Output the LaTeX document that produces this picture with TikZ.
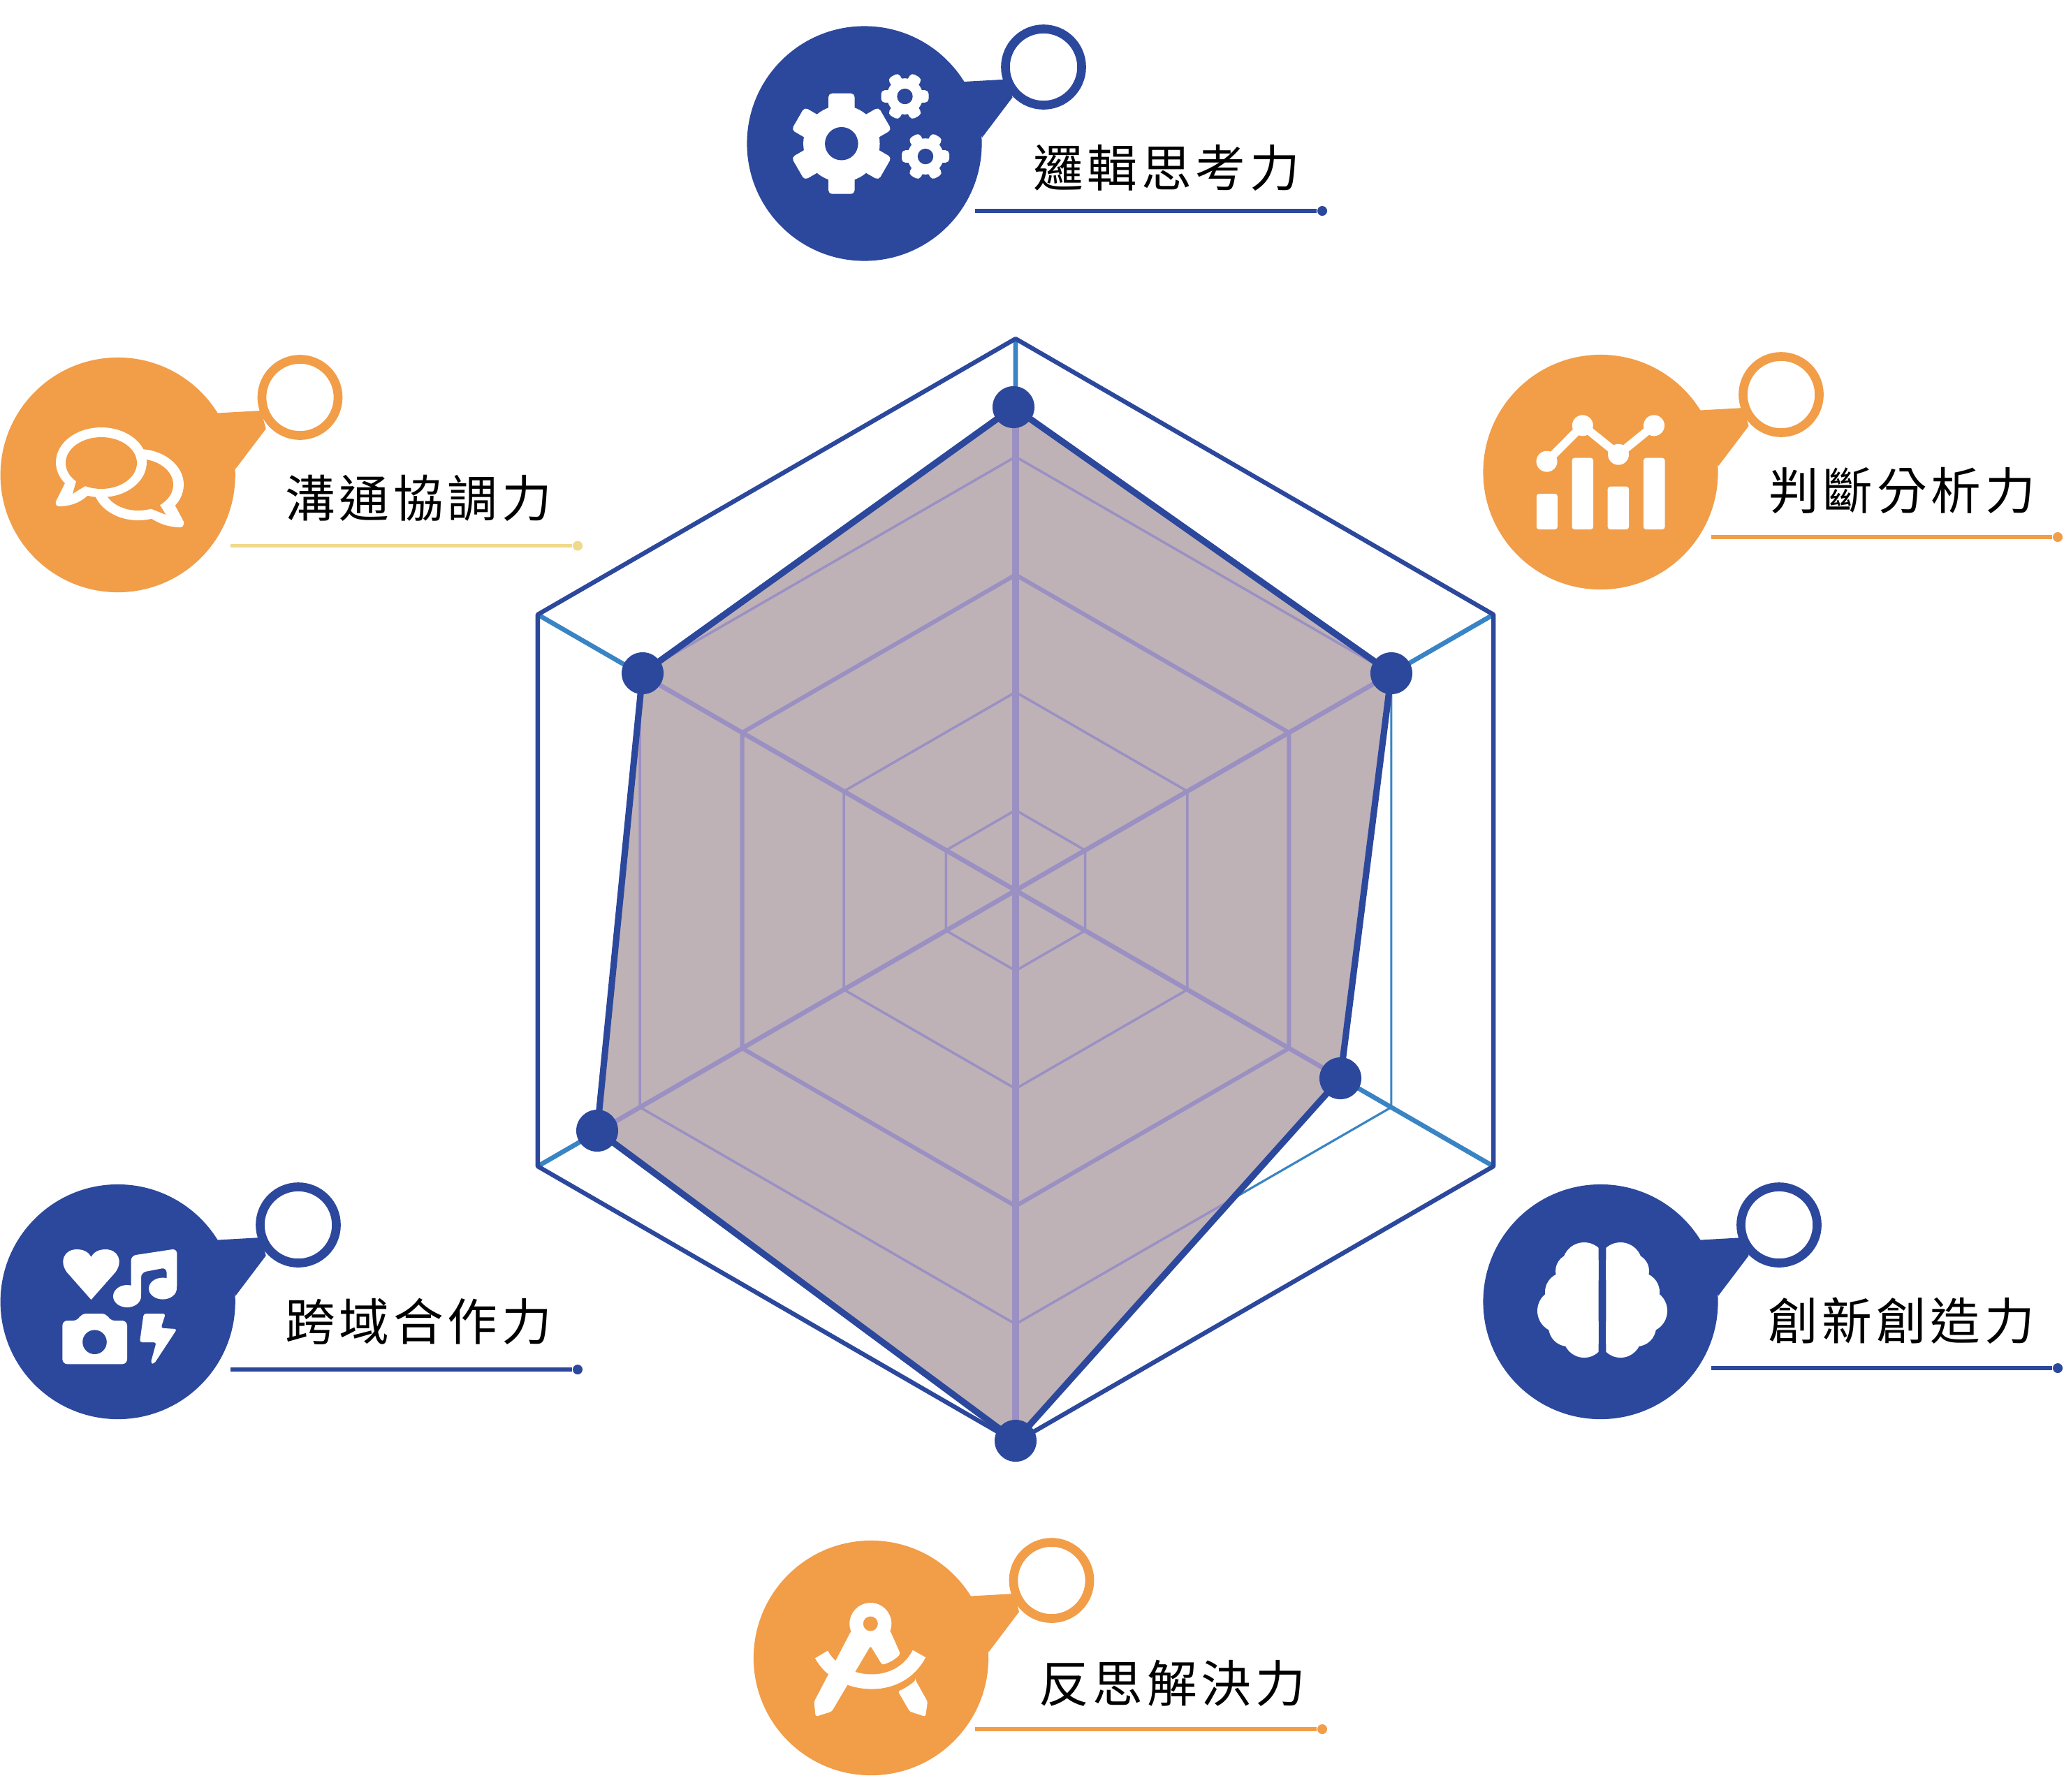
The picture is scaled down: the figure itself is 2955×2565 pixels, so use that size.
\documentclass[tikz,border=0pt]{standalone}
\usepackage{fontspec}
\newfontfamily\cjk[LetterSpace=8]{Noto Sans CJK TC}
\definecolor{navy}{HTML}{2C489C}
\definecolor{amber}{HTML}{F29D48}
\definecolor{straw}{HTML}{F0D98A}
\definecolor{skyline}{HTML}{3984C4}
\definecolor{gridline}{HTML}{9B90C2}
\definecolor{areafill}{HTML}{BEB2B7}
\tikzset{
	bigdisc/.style={circle,inner sep=0pt,minimum size=3.36cm,fill=#1},
	smallring/.style={circle,inner sep=0pt,minimum size=1.09cm,draw=#1,line width=3.6pt,fill=white},
	skill/.style={inner sep=0pt,text=black,font=\cjk\fontsize{20.4}{24}\selectfont},
	datadot/.style={circle,inner sep=0pt,minimum size=0.6cm,fill=navy},
	leaderdot/.style={circle,inner sep=0pt,minimum size=0.14cm,fill=#1},
}
% disc, tail and ring of one callout
\newcommand{\callout}[6]{
	\node[bigdisc=#6] (#1) at (#2,#3) {};
	\fill[#6] ([shift={(142.5,-88.5)}]#1.center) -- ([shift={(205,-92)}]#1.center) -- ([shift={(212,-66)}]#1.center) -- ([shift={(168.5,-8.5)}]#1.center) -- cycle;
	\node[smallring=#6] (#1ring) at (#4,#5) {};
}
% line under a label, with its dot at the free end
\newcommand{\leader}[5]{
	\coordinate (#1a) at (#2,#4);
	\node[leaderdot=#5] (#1b) at (#3,#4) {};
	\draw[#5,line width=1.5pt] (#1a) -- (#1b);
}
\newcommand{\hexring}[1]{(90:#1) -- (150:#1) -- (210:#1) -- (270:#1) -- (330:#1) -- (30:#1) -- cycle}
\newcommand{\spokes}{(90:790) -- (270:790) (30:790) -- (210:790) (150:790) -- (330:790)}
\newcommand{\cog}[4]{
	\begin{scope}[shift={(#1,#2)}]
		\fill[white] circle (0.76*#3);
		\foreach \k in {0,...,5}
			\fill[white,rounded corners=1.5pt,rotate=#4+60*\k] (0,-0.26*#3) rectangle (#3,0.26*#3);
		\fill[navy] circle (0.33*#3);
	\end{scope}
}
\newcommand{\lobe}{
	\begin{scope}
		\clip (-5.4,-100) rectangle (-110,100);
		\fill[white] (-26,-54) circle (31);
		\fill[white] (-42,-44) circle (25);
		\fill[white] (-54,-14) circle (28);
		\fill[white] (-62,13) circle (31);
		\fill[white] (-49,36) circle (28);
		\fill[white] (-26,50) circle (30);
		\fill[white] (-44,-60) rectangle (-5,60);
	\end{scope}
}
\begin{document}
\begin{tikzpicture}[x=0.01cm,y=-0.01cm]
	\useasboundingbox (0,0) rectangle (2955,2565);
	\coordinate (p1) at (1451,583);
	\coordinate (p2) at (1992,964);
	\coordinate (p3) at (1919,1544);
	\coordinate (p4) at (1454,2063);
	\coordinate (p5) at (855,1619);
	\coordinate (p6) at (920,964);

	% grid, as it stands outside the shaded area
	\begin{scope}[shift={(1454,1275)}]
		\draw[skyline,line width=1.9pt] \spokes;
		\draw[skyline,line width=0.9pt] \hexring{621};
		\draw[navy,line width=1.8pt,line join=round] \hexring{790};
	\end{scope}

	\fill[areafill] (p1) -- (p2) -- (p3) -- (p4) -- (p5) -- (p6) -- cycle;

	% grid inside the shaded area
	\begin{scope}
		\clip (p1) -- (p2) -- (p3) -- (p4) -- (p5) -- (p6) -- cycle;
		\begin{scope}[shift={(1454,1275)},gridline]
			\draw[line width=1pt] \hexring{115};
			\draw[line width=1pt] \hexring{284};
			\draw[line width=1.7pt] \hexring{452};
			\draw[line width=1pt] \hexring{621};
			\draw[line width=1.9pt] (150:790) -- (330:790) (30:790) -- (210:790);
			\draw[line width=2.6pt] (90:790) -- (270:790);
		\end{scope}
	\end{scope}

	\draw[navy,line width=2.6pt,line join=round] (p1) -- (p2) -- (p3) -- (p4) -- (p5) -- (p6) -- cycle;
	\foreach \i in {1,...,6}
		\node[datadot] (dot\i) at (p\i) {};

	% callouts
	\callout{logic}{1237.5}{205.5}{1494}{96}{navy}
	\leader{logicline}{1396}{1893}{302}{navy}
	\node[skill] (logiclabel) at (1670,240) {邏輯思考力};

	\callout{talk}{168.7}{680}{429.5}{569}{amber}
	\leader{talkline}{330}{827}{781.5}{straw}
	\node[skill] (talklabel) at (599,713) {溝通協調力};

	\callout{judge}{2291.5}{676}{2550}{565}{amber}
	\leader{judgeline}{2450}{2946}{769}{amber}
	\node[skill] (judgelabel) at (2723,702) {判斷分析力};

	\callout{cross}{168.7}{1864}{427}{1754}{navy}
	\leader{crossline}{330}{827}{1961}{navy}
	\node[skill] (crosslabel) at (599,1892) {跨域合作力};

	\callout{create}{2291.5}{1864}{2547}{1754}{navy}
	\leader{createline}{2450}{2946}{1959}{navy}
	\node[skill] (createlabel) at (2722,1891) {創新創造力};

	\callout{solve}{1247}{2374}{1505.5}{2263}{amber}
	\leader{solveline}{1396}{1893}{2476}{amber}
	\node[skill] (solvelabel) at (1678,2410) {反思解決力};

	% gears
	\cog{1204.8}{205.7}{72}{90}
	\cog{1295.5}{138}{34}{0}
	\cog{1325}{224}{34}{0}

	% speech bubbles
	\fill[white] (198,694) ellipse (65 and 51);
	\fill[white] (246,715) -- (263,747) .. controls (264,754) and (260,756) .. (255,755) .. controls (240,754) and (228,750) .. (216,742) -- cycle;
	\fill[amber] (198,694) ellipse (50 and 37);
	\fill[amber] (222,712) -- (237.5,737) -- (210,726) -- cycle;
	\fill[white] (145,662) ellipse (65 and 50);
	\fill[white] (94,690) -- (80,718) .. controls (79,724) and (82,725) .. (87,725) .. controls (105,724) and (118,718) .. (130,705) -- cycle;
	\fill[amber] (145,663) ellipse (51 and 37);
	\fill[amber] (110,686) -- (104,707) -- (125,694) -- cycle;

	% bars and trend line
	\fill[white,rounded corners=1pt] (2199.8,707) rectangle (2229.8,758);
	\fill[white,rounded corners=1pt] (2250.5,655.7) rectangle (2281,758);
	\fill[white,rounded corners=1pt] (2301.7,696.7) rectangle (2332,758);
	\fill[white,rounded corners=1pt] (2353,655.7) rectangle (2383.5,758);
	\draw[white,line width=3.4pt] (2214.5,660.7) -- (2265.8,609.3) -- (2317,650.7) -- (2368,609.3);
	\fill[white] (2214.5,660.7) circle (15);
	\fill[white] (2265.8,609.3) circle (15);
	\fill[white] (2317,650.7) circle (15);
	\fill[white] (2368,609.3) circle (15);

	% heart, notes, camera, bolt
	\fill[white] (130.5,1861) -- (96,1822) .. controls (84,1806) and (92,1789) .. (110,1789) .. controls (120,1789) and (127,1793) .. (130.5,1800) .. controls (134,1793) and (141,1789) .. (151,1789) .. controls (169,1789) and (177,1806) .. (165,1822) -- cycle;
	\fill[white,rounded corners=2pt] (187.6,1860) -- (187.6,1798) -- (253.4,1788) -- (253.4,1848) -- (238.6,1848) -- (238.6,1815) -- (202,1822) -- (202,1860) -- cycle;
	\fill[white] (182,1856) ellipse (20 and 16);
	\fill[white] (233,1845) ellipse (20 and 15.5);
	\fill[white,rounded corners=2pt] (89.4,1891) -- (112,1891) -- (116,1881) -- (153,1881) -- (157,1891) -- (182,1891) -- (182,1953.3) -- (89.4,1953.3) -- cycle;
	\fill[navy] (135.5,1921.7) circle (17.3);
	\fill[white,rounded corners=1pt] (205.7,1881) -- (237,1881) -- (230.4,1901.7) -- (253.4,1903) -- (220.5,1953) -- (215.6,1952) -- (223.8,1922) -- (200,1922) -- cycle;

	% brain
	\begin{scope}[shift={(2294,1864)}]
		\lobe
		\begin{scope}[xscale=-1]
			\lobe
		\end{scope}
	\end{scope}

	% compasses
	\fill[white] (1246.3,2325) circle (30);
	\fill[white,rounded corners=0.8pt] (1218.8,2335) -- (1165.5,2436.7) -- (1167.7,2458) -- (1190.8,2450.7) -- (1246.3,2356.7) -- (1263,2384) .. controls (1275,2380) and (1283,2375) .. (1289,2368) -- (1274.4,2335) -- cycle;
	\fill[white,rounded corners=0.8pt] (1310.8,2406) -- (1328,2436.7) -- (1325,2458) -- (1302.4,2450.7) -- (1285.6,2421.7) .. controls (1295,2418) and (1304,2412) .. cycle;
	\draw[white,line width=6pt] (1176,2369) .. controls (1190,2395) and (1220,2408) .. (1248,2408) .. controls (1276,2408) and (1302,2395) .. (1316,2368);
	\fill[amber] (1246.3,2325) circle (10.5);
\end{tikzpicture}
\end{document}
